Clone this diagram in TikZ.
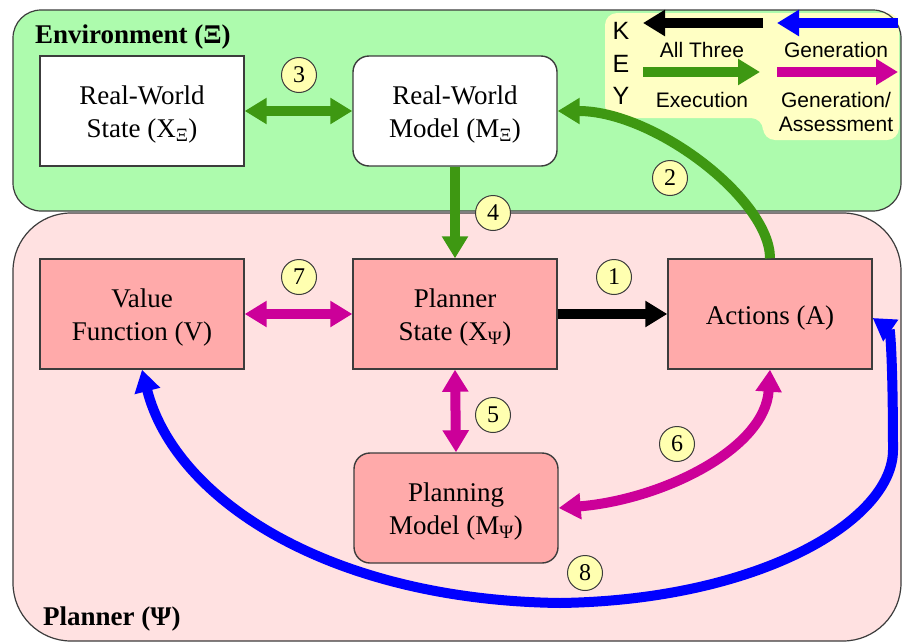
\documentclass[tikz,border=0pt]{standalone}
\usepackage{fontspec}
\setmainfont{Liberation Serif}
\setsansfont{Liberation Sans}
\usetikzlibrary{arrows.meta}

\definecolor{envbg}{RGB}{173,251,173}
\definecolor{planbg}{RGB}{255,225,225}
\definecolor{boxpink}{RGB}{255,170,170}
\definecolor{keybg}{RGB}{255,255,196}
\definecolor{numbg}{RGB}{255,255,176}
\definecolor{exgreen}{RGB}{62,152,18}
\definecolor{genmag}{RGB}{204,0,153}
\definecolor{genblue}{RGB}{0,0,255}
\definecolor{edge}{RGB}{60,60,60}

\tikzset{
  region/.style={draw=edge, line width=1.2pt},
  plainbox/.style={draw=edge, line width=1.4pt, minimum width=204pt, minimum height=110pt,
    inner sep=0pt},
  whitebox/.style={plainbox, fill=white},
  pinkbox/.style={plainbox, fill=boxpink},
  roundbox/.style={rounded corners=16pt},
  boxtext/.style={align=center, inner sep=0pt, yshift=-4pt, font=\fontsize{27}{33}\selectfont},
  num/.style={circle, draw=edge, line width=1pt, fill=numbg, minimum size=35pt, inner sep=0pt,
    font=\fontsize{24}{24}\selectfont},
  fat/.style={line width=10pt},
  tip/.tip={Triangle[width=25pt,length=22pt]},
  one/.style={fat, -tip},
  two/.style={fat, tip-tip},
  keytxt/.style={anchor=base, inner sep=0pt, font=\sffamily\fontsize{21}{21}\selectfont},
  keyletter/.style={inner sep=0pt, font=\sffamily\fontsize{25}{25}\selectfont},
  title/.style={anchor=base west, inner sep=0pt, font=\bfseries\fontsize{27}{27}\selectfont}
}

\begin{document}
\begin{tikzpicture}[x=1pt,y=-1pt]
\useasboundingbox (0,0) rectangle (903,643);

% environment and planner regions
\fill[envbg, rounded corners=28pt] (13,10) rectangle (901,211);
\fill[keybg, rounded corners=12pt] (605,13) -- (899,13) -- (899,140) -- (763,140)
  -- (763,118) -- (605,118) -- cycle;
\draw[region, rounded corners=28pt] (13,10) rectangle (901,211);
\fill[planbg, rounded corners=58pt] (13,213) rectangle (901,641);
\draw[region, rounded corners=58pt] (13,213) rectangle (901,641);

\node[title] (envtitle) at (35,43) {Environment (Ξ)};
\node[title] (plantitle) at (43,625) {Planner (Ψ)};

% key
\node[keyletter] (kK) at (621,31) {K};
\node[keyletter] (kE) at (621,64) {E};
\node[keyletter] (kY) at (621,96) {Y};
\coordinate (kblackA) at (763,23);
\coordinate (kblackB) at (643,23);
\coordinate (kblueA) at (898,23);
\coordinate (kblueB) at (777,23);
\coordinate (kgreenA) at (643,72);
\coordinate (kgreenB) at (760,72);
\coordinate (kmagA) at (777,72);
\coordinate (kmagB) at (898,72);
\draw[one, black] (kblackA) -- (kblackB);
\draw[one, genblue] (kblueA) -- (kblueB);
\draw[one, exgreen] (kgreenA) -- (kgreenB);
\draw[one, genmag] (kmagA) -- (kmagB);
\node[keytxt] (kall) at (702,57) {All Three};
\node[keytxt] (kgen) at (836,57) {Generation};
\node[keytxt] (kexe) at (702,107) {Execution};
\node[keytxt] (kgas1) at (836,107) {Generation/};
\node[keytxt] (kgas2) at (836,131) {Assessment};

% boxes
\node[whitebox] (rwstate) at (142,111) {};
\node[whitebox, roundbox] (rwmodel) at (455,111) {};
\node[pinkbox] (value) at (142,314) {};
\node[pinkbox] (pstate) at (455,314) {};
\node[pinkbox] (actions) at (770,314) {};
\node[pinkbox, roundbox] (pmodel) at (456,508) {};

% box texts
\node[boxtext] (rwstateT) at (rwstate) {Real-World\\State (X\textsubscript{Ξ})};
\node[boxtext] (rwmodelT) at (rwmodel) {Real-World\\Model (M\textsubscript{Ξ})};
\node[boxtext] (valueT) at (value) {Value\\Function (V)};
\node[boxtext] (pstateT) at (pstate) {Planner\\State (X\textsubscript{Ψ})};
\node[boxtext] (actionsT) at (actions) {Actions (A)};
\node[boxtext] (pmodelT) at (pmodel) {Planning\\Model (M\textsubscript{Ψ})};

% connectors
\draw[two, exgreen] (rwstate.east) -- (rwmodel.west);
\draw[one, exgreen] (rwmodel.south) -- (pstate.north);
\draw[one, exgreen] (actions.north) .. controls (770,200) and (655,111) .. (rwmodel.east);
\draw[one, black] (pstate.east) -- (actions.west);
\draw[two, genmag] (value.east) -- (pstate.west);
\draw[two, genmag] (pstate.south) -- (pmodel.north);
\draw[two, genmag] (actions.south) .. controls (765,450) and (660,500) .. (pmodel.east);
\draw[two, genblue] (value.south) .. controls (175,500) and (330,600) .. (560,603)
  .. controls (760,600) and (893,520) .. (893,450)
  .. controls (893,360) and (890,330) .. ([yshift=-4pt]actions.east);

% numbered labels
\node[num] (n1) at (614,277) {1};
\node[num] (n2) at (670,178) {2};
\node[num] (n3) at (299,75) {3};
\node[num] (n4) at (493,213) {4};
\node[num] (n5) at (493,415) {5};
\node[num] (n6) at (677,444) {6};
\node[num] (n7) at (299,277) {7};
\node[num] (n8) at (585,573) {8};
\end{tikzpicture}
\end{document}
